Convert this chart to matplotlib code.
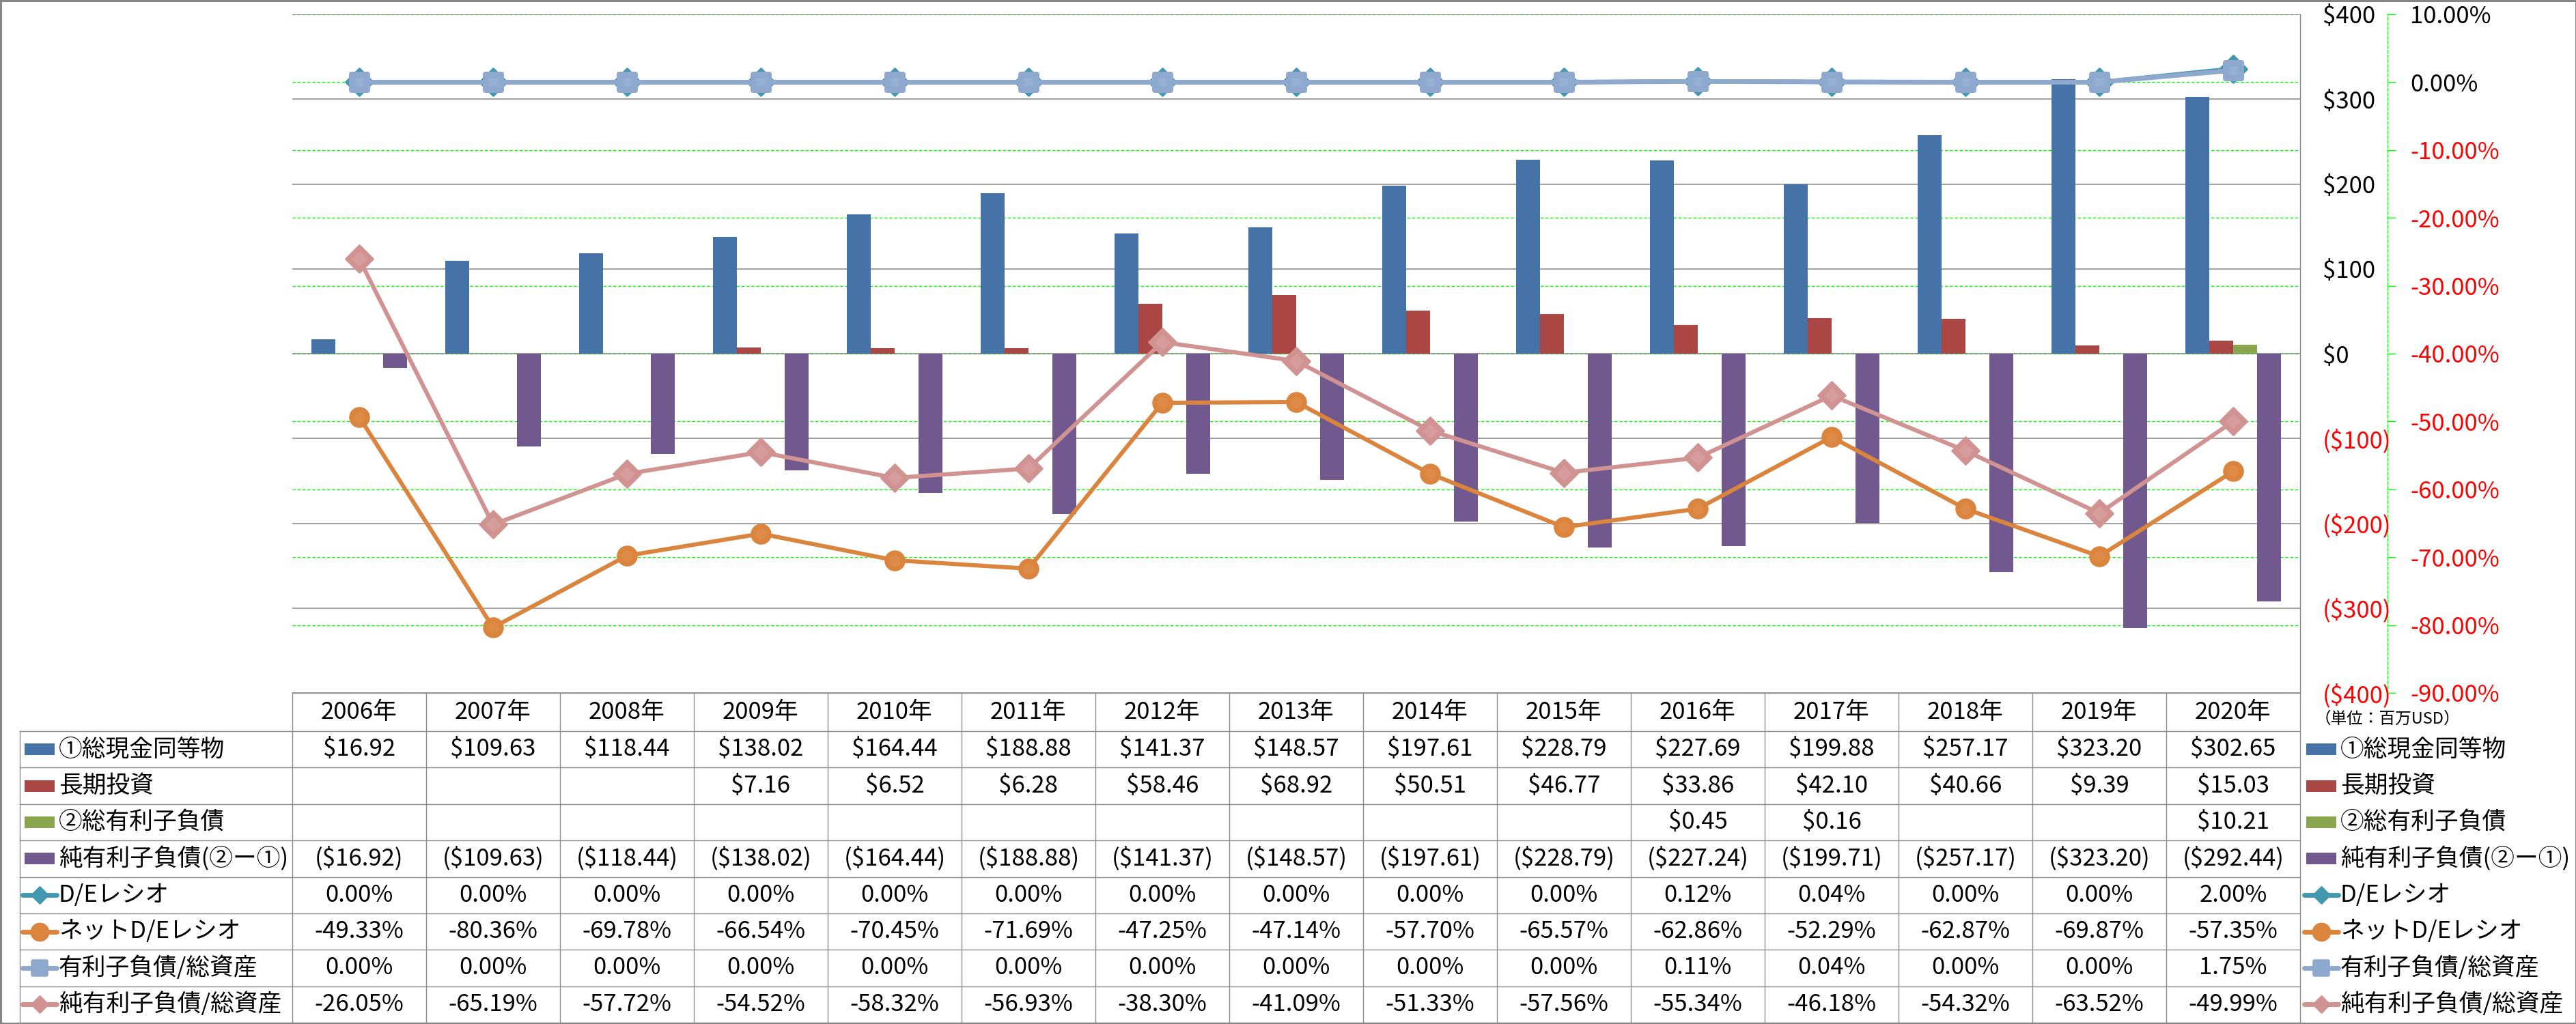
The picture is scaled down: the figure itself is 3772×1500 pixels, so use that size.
import numpy as np
import matplotlib
matplotlib.use('Agg')
import matplotlib.pyplot as plt
import matplotlib.transforms as mtransforms
from matplotlib.patches import Rectangle
from matplotlib.markers import MarkerStyle

plt.rcParams['font.family'] = ['Noto Sans CJK JP', 'DejaVu Sans']

# ---------------- data ----------------
years = ['2006年', '2007年', '2008年', '2009年', '2010年', '2011年', '2012年', '2013年',
         '2014年', '2015年', '2016年', '2017年', '2018年', '2019年', '2020年']
cash = [16.92, 109.63, 118.44, 138.02, 164.44, 188.88, 141.37, 148.57,
        197.61, 228.79, 227.69, 199.88, 257.17, 323.20, 302.65]
lt_invest = [np.nan, np.nan, np.nan, 7.16, 6.52, 6.28, 58.46, 68.92,
             50.51, 46.77, 33.86, 42.10, 40.66, 9.39, 15.03]
debt = [np.nan, np.nan, np.nan, np.nan, np.nan, np.nan, np.nan, np.nan,
        np.nan, np.nan, 0.45, 0.16, np.nan, np.nan, 10.21]
net_debt = [-16.92, -109.63, -118.44, -138.02, -164.44, -188.88, -141.37, -148.57,
            -197.61, -228.79, -227.24, -199.71, -257.17, -323.20, -292.44]
de_ratio = [0.00, 0.00, 0.00, 0.00, 0.00, 0.00, 0.00, 0.00,
            0.00, 0.00, 0.12, 0.04, 0.00, 0.00, 2.00]
net_de_ratio = [-49.33, -80.36, -69.78, -66.54, -70.45, -71.69, -47.25, -47.14,
                -57.70, -65.57, -62.86, -52.29, -62.87, -69.87, -57.35]
debt_to_assets = [0.00, 0.00, 0.00, 0.00, 0.00, 0.00, 0.00, 0.00,
                  0.00, 0.00, 0.11, 0.04, 0.00, 0.00, 1.75]
net_debt_to_assets = [-26.05, -65.19, -57.72, -54.52, -58.32, -56.93, -38.30, -41.09,
                      -51.33, -57.56, -55.34, -46.18, -54.32, -63.52, -49.99]

usd_ticks = [-400, -300, -200, -100, 0, 100, 200, 300, 400]
pct_ticks = [-90, -80, -70, -60, -50, -40, -30, -20, -10, 0, 10]

labels = ['①総現金同等物', '長期投資', '②総有利子負債', '純有利子負債(②ー①)',
          'D/Eレシオ', 'ネットD/Eレシオ', '有利子負債/総資産', '純有利子負債/総資産']
unit_text = '（単位：百万USD）'

# ---------------- styles ----------------
C_BLUE, C_RED, C_GREEN, C_PURPLE = '#4572A7', '#AA4643', '#89A54E', '#71588F'
C_TEAL, C_ORANGE, C_LBLUE, C_PINK = '#4198AF', '#DB843D', '#8EA8CE', '#D09392'
GRID_GRAY = '#868686'
GREEN = '#00FF00'
RED = '#FF0000'
FS = 25

W, H = 3773, 1500
fig = plt.figure(figsize=(W / 100, H / 100), dpi=100)

PL, PR, PT, PB = 428, 3368, 21, 1015
rect = [PL / W, 1 - PB / H, (PR - PL) / W, (PB - PT) / H]

ax_pct = fig.add_axes(rect)
ax_bar = ax_pct.twinx()
ax_line = ax_pct.twinx()

n = len(years)
x = np.arange(n)
ax_pct.set_xlim(-0.5, n - 0.5)

# percent axis (right, outward, green dashed)
ax_pct.set_ylim(-90, 10)
ax_pct.yaxis.tick_right()
for s in ['left', 'top', 'bottom']:
    ax_pct.spines[s].set_visible(False)
ax_pct.spines['right'].set_position(('outward', 128 * 0.72))
ax_pct.spines['right'].set_color(GREEN)
ax_pct.spines['right'].set_linestyle((0, (3, 2)))
ax_pct.spines['right'].set_linewidth(1.0)
ax_pct.tick_params(axis='y', which='both', left=False, right=True, direction='out',
                   length=12 * 0.72, width=1.0, color=GREEN, pad=21 * 0.72,
                   labelleft=False, labelright=True, labelsize=FS)
ax_pct.tick_params(axis='x', bottom=False, labelbottom=False)
ax_pct.set_yticks(pct_ticks)
ax_pct.set_yticklabels([f'{v:.2f}%' for v in pct_ticks], fontsize=FS)
for t, v in zip(ax_pct.get_yticklabels(), pct_ticks):
    t.set_color(RED if v < 0 else 'black')
ax_pct.yaxis.grid(True, color=GREEN, linestyle=(0, (3.2, 2)), linewidth=1.0)
ax_pct.set_axisbelow(True)

# USD axis (right, at plot edge)
ax_bar.set_ylim(-400, 400)
for s in ['left', 'top', 'bottom']:
    ax_bar.spines[s].set_visible(False)
ax_bar.spines['right'].set_color(GRID_GRAY)
ax_bar.spines['right'].set_linewidth(1.0)
ax_bar.tick_params(axis='y', length=0, pad=33 * 0.72, labelsize=FS)
ax_bar.tick_params(axis='x', bottom=False, labelbottom=False)
ax_bar.set_yticks(usd_ticks)
ax_bar.set_yticklabels([f'${v}' if v >= 0 else f'(${-v})' for v in usd_ticks], fontsize=FS)
for t, v in zip(ax_bar.get_yticklabels(), usd_ticks):
    t.set_color(RED if v < 0 else 'black')
ax_bar.yaxis.grid(True, color=GRID_GRAY, linewidth=1.1)
ax_bar.set_axisbelow(True)

bw = 35 / 196
bar_series = [(cash, C_BLUE), (lt_invest, C_RED), (debt, C_GREEN), (net_debt, C_PURPLE)]
for k, (vals, col) in enumerate(bar_series):
    ax_bar.bar(x + (k - 1.5) * bw, vals, width=bw, color=col, zorder=2)

# lines
ax_line.set_ylim(-90, 10)
ax_line.set_yticks([])
for s in ax_line.spines.values():
    s.set_visible(False)
ax_line.tick_params(axis='both', length=0, labelbottom=False, labelright=False)

dia = MarkerStyle('D', joinstyle='round')
sq = MarkerStyle('s', joinstyle='round')
circ = MarkerStyle('o')

line_series = [
    (de_ratio, C_TEAL, dia, 20, 2, 4.5, None),
    (net_de_ratio, C_ORANGE, circ, 21, 1, 4.4, '#DE8B47'),
    (debt_to_assets, C_LBLUE, sq, 17, 5, 5.0, '#97AFD3'),
    (net_debt_to_assets, C_PINK, dia, 20, 2, 4.4, '#D69D9C'),
]
for vals, col, mk, ms, mew, lw, inner in line_series:
    ax_line.plot(x, vals, color=col, lw=lw, marker=mk, ms=ms, mfc=col, mec=col, mew=mew,
                 solid_joinstyle='round', zorder=3)
    if inner:
        ax_line.plot(x, vals, ls='none', marker=mk, ms=ms * 0.55, mfc=inner, mec='none', zorder=4)

# ---------------- data table (overlay in pixel coords) ----------------
ov = fig.add_axes([0, 0, 1, 1])
ov.set_xlim(0, W)
ov.set_ylim(H, 0)
ov.axis('off')
ov.patch.set_alpha(0)

col_x = mtransforms.blended_transform_factory(ax_bar.transData, ov.transData)

head_top, head_bot = 1015, 1071
row_h = (1498 - head_bot) / 8
row_tops = [head_bot + i * row_h for i in range(9)]
LINE_C = '#8C8C8C'
TLW = 1.0

ov.plot([PL, PR], [head_top, head_top], color=LINE_C, lw=TLW)
for yy in row_tops:
    ov.plot([29, PR], [yy, yy], color=LINE_C, lw=TLW)
ov.plot([29, 29], [head_bot, row_tops[-1]], color=LINE_C, lw=TLW)
for k in range(n + 1):
    ov.plot([k - 0.5, k - 0.5], [head_top, row_tops[-1]], color=LINE_C, lw=TLW, transform=col_x)

for i, yl in enumerate(years):
    ov.text(i, (head_top + head_bot) / 2, yl, ha='center', va='center', fontsize=FS, transform=col_x)


def fmt_usd(v):
    if v is None or np.isnan(v):
        return ''
    return f'${v:,.2f}' if v >= 0 else f'(${-v:,.2f})'


def fmt_pct(v):
    return f'{v:.2f}%'


rows = [
    (cash, fmt_usd, ('bar', C_BLUE)),
    (lt_invest, fmt_usd, ('bar', C_RED)),
    (debt, fmt_usd, ('bar', C_GREEN)),
    (net_debt, fmt_usd, ('bar', C_PURPLE)),
    (de_ratio, fmt_pct, ('line', C_TEAL, dia, 12, 2)),
    (net_de_ratio, fmt_pct, ('line', C_ORANGE, circ, 19, 1)),
    (debt_to_assets, fmt_pct, ('line', C_LBLUE, sq, 15, 4)),
    (net_debt_to_assets, fmt_pct, ('line', C_PINK, dia, 12, 2)),
]


def draw_key(x0, yc, key):
    if key[0] == 'bar':
        ov.add_patch(Rectangle((x0 + 3, yc - 8.5), 44, 17, color=key[1], lw=0))
    else:
        _, col, mk, ms, mew = key
        ov.plot([x0, x0 + 50], [yc, yc], color=col, lw=5, solid_capstyle='round')
        ov.plot([x0 + 25], [yc], marker=mk, ms=ms, mfc=col, mec=col, mew=mew)


for r, (vals, fmt, key) in enumerate(rows):
    yc = (row_tops[r] + row_tops[r + 1]) / 2
    for i, v in enumerate(vals):
        s = fmt(v)
        if s:
            ov.text(i, yc, s, ha='center', va='center', fontsize=FS, transform=col_x)
    draw_key(33, yc, key)
    ov.text(86, yc, labels[r], ha='left', va='center', fontsize=FS)
    draw_key(3374, yc, key)
    ov.text(3427, yc, labels[r], ha='left', va='center', fontsize=FS)

ov.text(3390, 1053, unit_text, ha='left', va='center', fontsize=17)

# outer frame
ov.add_patch(Rectangle((1, 1), W - 2, H - 2, fill=False, ec='#868686', lw=2.2))

fig.savefig('out.png', dpi=100)
